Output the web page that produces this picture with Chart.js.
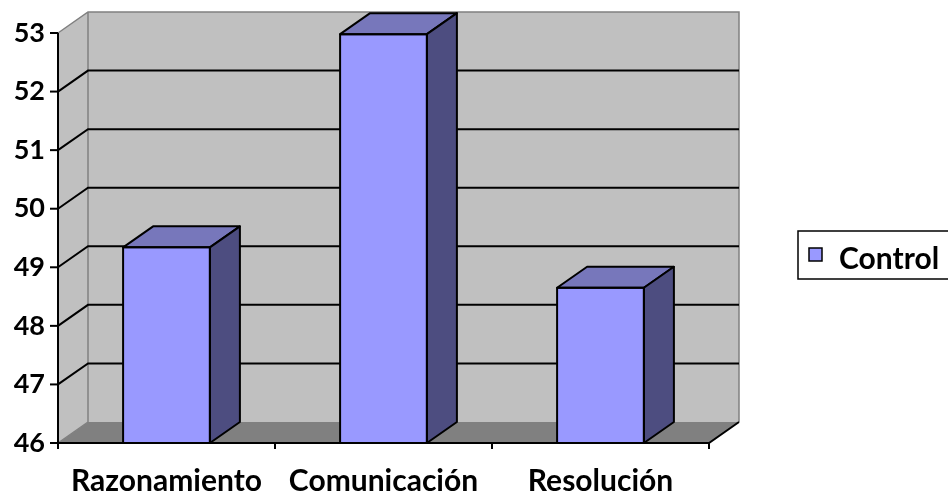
<!DOCTYPE html>
<html><head><meta charset="utf-8">
<script src="https://cdn.jsdelivr.net/npm/chart.js@4.4.0/dist/chart.umd.min.js"></script>
<style>html,body{margin:0;padding:0;background:#fff;overflow:hidden}</style>
</head><body>
<canvas id="c" width="948" height="493"></canvas>
<script>
const categories = ['Razonamiento', 'Comunicación', 'Resolución'];
const seriesName = 'Control';
const controlValues = [49.34, 52.98, 48.65];
const yMin = 46, yMax = 53, yStep = 1;

const DX = 30, DY = -21;
const FONT = 'Lato, "Open Sans", sans-serif';
const FRONT = '#9999ff', TOP = '#7777bb', SIDE = '#4d4d80';

const plugin3d = {
  id: 'threeD',
  beforeDatasetsDraw(chart) {
    const ctx = chart.ctx, ys = chart.scales.y, xs = chart.scales.x;
    const a = chart.chartArea;
    const L = a.left, R = a.right, T = ys.getPixelForValue(ys.max), B = ys.getPixelForValue(ys.min);
    ctx.save();
    ctx.fillStyle = '#c0c0c0';
    ctx.fillRect(L + DX, T + DY, R - L, B - T);
    ctx.beginPath(); ctx.moveTo(L, T); ctx.lineTo(L + DX, T + DY); ctx.lineTo(L + DX, B + DY); ctx.lineTo(L, B); ctx.closePath(); ctx.fill();
    ctx.fillStyle = '#808080';
    ctx.beginPath(); ctx.moveTo(L, B); ctx.lineTo(R, B); ctx.lineTo(R + DX, B + DY); ctx.lineTo(L + DX, B + DY); ctx.closePath(); ctx.fill();
    ctx.strokeStyle = '#808080'; ctx.lineWidth = 1.5;
    ctx.beginPath();
    ctx.moveTo(L, T); ctx.lineTo(L + DX, T + DY); ctx.lineTo(R + DX, T + DY); ctx.lineTo(R + DX, B + DY);
    ctx.moveTo(L + DX, T + DY); ctx.lineTo(L + DX, B + DY);
    ctx.moveTo(L, B); ctx.lineTo(L + DX, B + DY);
    ctx.stroke();
    ctx.strokeStyle = '#000'; ctx.lineWidth = 2;
    ys.ticks.forEach(t => {
      const y = ys.getPixelForValue(t.value);
      if (t.value !== ys.min && t.value !== ys.max) {
        ctx.beginPath(); ctx.moveTo(L, y); ctx.lineTo(L + DX, y + DY); ctx.lineTo(R + DX, y + DY); ctx.stroke();
      }
      ctx.beginPath(); ctx.moveTo(L - 8, y); ctx.lineTo(L, y); ctx.stroke();
    });
    ctx.beginPath(); ctx.moveTo(L, T); ctx.lineTo(L, B); ctx.stroke();
    ctx.beginPath(); ctx.moveTo(L, B); ctx.lineTo(R, B); ctx.lineTo(R + DX, B + DY); ctx.stroke();
    const n = xs.ticks.length;
    const half = (xs.getPixelForValue(1) - xs.getPixelForValue(0)) / 2;
    for (let i = 0; i <= n; i++) {
      const x = i < n ? xs.getPixelForValue(i) - half : xs.getPixelForValue(n - 1) + half;
      ctx.beginPath(); ctx.moveTo(x, B); ctx.lineTo(x, B + 6); ctx.stroke();
    }
    ctx.restore();
  },
  afterDatasetsDraw(chart) {
    const ctx = chart.ctx, ys = chart.scales.y;
    const B = ys.getPixelForValue(ys.min);
    const meta = chart.getDatasetMeta(0);
    ctx.save();
    ctx.strokeStyle = '#000'; ctx.lineWidth = 2; ctx.lineJoin = 'round';
    meta.data.forEach(bar => {
      const p = bar.getProps(['x', 'y', 'width'], true);
      const x1 = p.x - p.width / 2, x2 = p.x + p.width / 2, y = p.y, b = B;
      ctx.fillStyle = TOP;
      ctx.beginPath(); ctx.moveTo(x1, y); ctx.lineTo(x2, y); ctx.lineTo(x2 + DX, y + DY); ctx.lineTo(x1 + DX, y + DY); ctx.closePath(); ctx.fill(); ctx.stroke();
      ctx.fillStyle = SIDE;
      ctx.beginPath(); ctx.moveTo(x2, y); ctx.lineTo(x2 + DX, y + DY); ctx.lineTo(x2 + DX, b + DY); ctx.lineTo(x2, b); ctx.closePath(); ctx.fill(); ctx.stroke();
      ctx.beginPath(); ctx.rect(x1, y, p.width, b - y); ctx.stroke();
    });
    ctx.restore();
  },
  afterDraw(chart) {
    const ctx = chart.ctx;
    ctx.save();
    ctx.strokeStyle = '#000'; ctx.lineWidth = 1.5;
    ctx.strokeRect(798, 231, 200, 48);
    ctx.fillStyle = FRONT;
    ctx.fillRect(809, 248, 13, 13);
    ctx.strokeRect(809, 248, 13, 13);
    ctx.fillStyle = '#000';
    ctx.font = 'bold 30px ' + FONT;
    ctx.textAlign = 'left'; ctx.textBaseline = 'alphabetic';
    ctx.fillText(chart.data.datasets[0].label, 839, 269);
    ctx.restore();
  }
};

new Chart(document.getElementById('c'), {
  type: 'bar',
  data: {
    labels: categories,
    datasets: [{
      label: seriesName,
      data: controlValues,
      backgroundColor: FRONT,
      borderColor: '#000',
      borderWidth: 0,
      barPercentage: 0.4,
      categoryPercentage: 1.0
    }]
  },
  options: {
    responsive: false,
    animation: false,
    devicePixelRatio: 1,
    layout: { padding: { top: 33, right: 239, bottom: 0, left: 0 } },
    plugins: { legend: { display: false }, tooltip: { enabled: false } },
    scales: {
      x: {
        offset: true,
        grid: { display: true, color: 'rgba(0,0,0,0)', tickLength: 8, offset: true },
        border: { display: false },
        ticks: { color: '#000', font: { family: FONT, size: 30, weight: 'bold' }, padding: 12, maxRotation: 0, autoSkip: false },
        afterFit(s) { s.height = 50; }
      },
      y: {
        min: yMin, max: yMax,
        grid: { display: true, color: 'rgba(0,0,0,0)', tickLength: 8 },
        border: { display: false },
        ticks: { stepSize: yStep, color: '#000', font: { family: FONT, size: 27, weight: 'bold' }, padding: 5 },
        afterFit(s) { s.width = 58; }
      }
    }
  },
  plugins: [plugin3d]
});
</script>
</body></html>
